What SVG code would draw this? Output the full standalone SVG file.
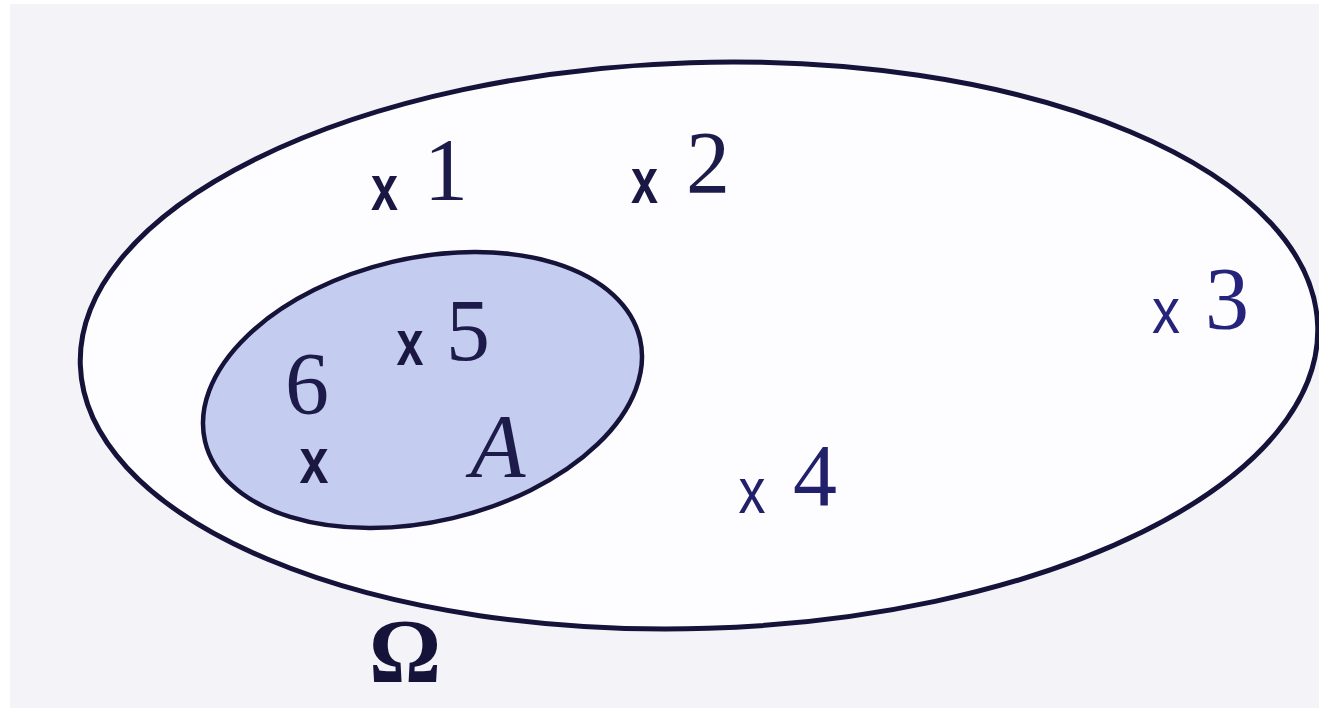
<svg xmlns="http://www.w3.org/2000/svg" width="1319" height="708" viewBox="0 0 1319 708">
  <style>
    .num { font-family: "Liberation Serif", "Times New Roman", serif; font-size: 88px; fill: #1d1b4a; text-anchor: middle; }
    .mk { font-family: "Liberation Sans", Arial, sans-serif; font-size: 64px; font-weight: bold; fill: #1a1842; text-anchor: middle; }
  </style>
  <rect x="0" y="0" width="1319" height="708" fill="#ffffff"/>
  <rect x="10" y="4" width="1309" height="704" fill="#f3f3f8"/>

  <g id="omega">
    <ellipse cx="699" cy="345.5" rx="619" ry="283" transform="rotate(-1.8 699 345.5)" fill="#fdfdff" stroke="#15133a" stroke-width="5"/>
    <text x="405" y="682" font-family="'Liberation Serif', 'Times New Roman', serif" font-size="90" font-weight="bold" fill="#15133a" text-anchor="middle">Ω</text>
  </g>

  <g id="setA">
    <ellipse cx="422.5" cy="390" rx="223.4" ry="131.6" transform="rotate(-13.3 422.5 390)" fill="#c4ccef" stroke="#15133a" stroke-width="4.5"/>
    <text x="498" y="477" font-family="'Liberation Serif', 'Times New Roman', serif" font-size="90" font-style="italic" fill="#1d1b4a" text-anchor="middle">A</text>
  </g>

  <g id="point1">
    <text class="mk" x="384.5" y="210" textLength="27" lengthAdjust="spacingAndGlyphs">x</text>
    <text class="num" x="446" y="199">1</text>
  </g>
  <g id="point2">
    <text class="mk" x="644.5" y="203" textLength="27" lengthAdjust="spacingAndGlyphs">x</text>
    <text class="num" x="708" y="192">2</text>
  </g>
  <g id="point3">
    <text class="mk" x="1166" y="333" textLength="28" lengthAdjust="spacingAndGlyphs" style="fill:#26247a;font-weight:normal">x</text>
    <text class="num" x="1227" y="328" style="fill:#26247a">3</text>
  </g>
  <g id="point4">
    <text class="mk" x="752" y="513" textLength="27" lengthAdjust="spacingAndGlyphs" style="fill:#22206a;font-weight:normal">x</text>
    <text class="num" x="815" y="505" style="fill:#22206a">4</text>
  </g>
  <g id="point5">
    <text class="mk" x="410" y="365" textLength="27" lengthAdjust="spacingAndGlyphs">x</text>
    <text class="num" x="468" y="360">5</text>
  </g>
  <g id="point6">
    <text class="num" x="307" y="413">6</text>
    <text class="mk" x="314" y="483" textLength="29" lengthAdjust="spacingAndGlyphs">x</text>
  </g>

  <g id="connectors"/>
</svg>
